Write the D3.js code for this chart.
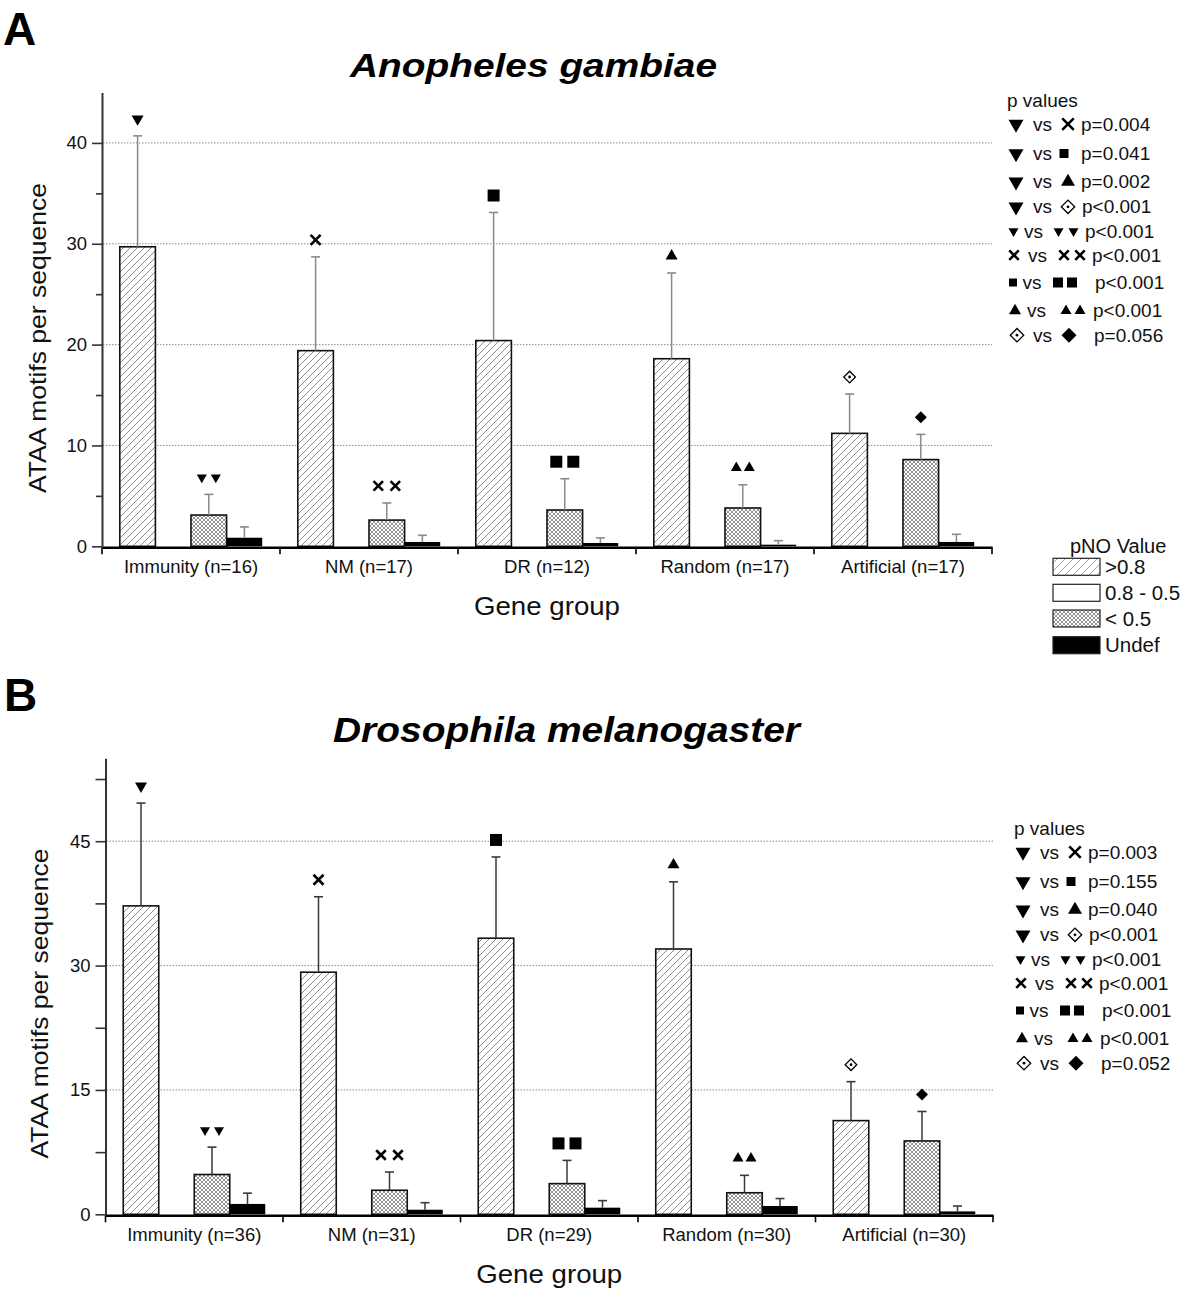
<!DOCTYPE html>
<html><head><meta charset="utf-8">
<script src="https://cdn.jsdelivr.net/npm/d3@7"></script>
<style>body{margin:0;background:#fff}svg{display:block;font-family:"Liberation Sans",Arial,sans-serif}</style>
</head><body><svg id="c" width="1200" height="1296"></svg>
<script>
// ---------- data ----------
const seriesNames = [">0.8", "0.8 - 0.5", "< 0.5", "Undef"];

const categoriesA = ["Immunity (n=16)", "NM (n=17)", "DR (n=12)", "Random (n=17)", "Artificial (n=17)"];
const highA = [29.7, 19.4, 20.4, 18.6, 11.2];
const highErrA = [11.0, 9.3, 12.7, 8.5, 3.9];
const midA = [0, 0, 0, 0, 0];
const midErrA = [0, 0, 0, 0, 0];
const lowA = [3.1, 2.6, 3.6, 3.8, 8.6];
const lowErrA = [2.05, 1.7, 3.1, 2.3, 2.5];
const undefA = [0.85, 0.43, 0.33, 0.16, 0.43];
const undefErrA = [1.07, 0.66, 0.5, 0.4, 0.76];
const yTicksA = [0, 10, 20, 30, 40];
const yMinorA = [5, 15, 25, 35];
const pValuesA = ["p=0.004", "p=0.041", "p=0.002", "p<0.001", "p<0.001", "p<0.001", "p<0.001", "p<0.001", "p=0.056"];

const categoriesB = ["Immunity (n=36)", "NM (n=31)", "DR (n=29)", "Random (n=30)", "Artificial (n=30)"];
const highB = [37.2, 29.2, 33.3, 32.0, 11.3];
const highErrB = [12.4, 9.1, 9.8, 8.1, 4.7];
const midB = [0, 0, 0, 0, 0];
const midErrB = [0, 0, 0, 0, 0];
const lowB = [4.8, 2.9, 3.7, 2.6, 8.85];
const lowErrB = [3.3, 2.2, 2.8, 2.1, 3.55];
const undefB = [1.25, 0.55, 0.8, 1.0, 0.35];
const undefErrB = [1.3, 0.85, 0.85, 0.9, 0.65];
const yTicksB = [0, 15, 30, 45];
const yMinorB = [7.5, 22.5, 37.5, 52.5];
const pValuesB = ["p=0.003", "p=0.155", "p=0.040", "p<0.001", "p<0.001", "p<0.001", "p<0.001", "p<0.001", "p=0.052"];

const highMarks = ["down", "cross", "square", "up", "dotdiamond"];
const lowMarks = ["down", "cross", "square", "up", "diamond"];
const lowMarkCount = [2, 2, 2, 2, 1];
const legendPairs = [["down","cross"],["down","square"],["down","up"],["down","dotdiamond"],["down","down"],["cross","cross"],["square","square"],["up","up"],["dotdiamond","diamond"]];
const legendPairCount = [1,1,1,1,2,2,2,2,1];

// ---------- drawing ----------
const svg = d3.select("#c");
const defs = svg.append("defs");
function hatchPattern(id, size, color) {
  const p = defs.append("pattern").attr("id", id).attr("patternUnits", "userSpaceOnUse")
    .attr("width", size).attr("height", size);
  p.append("rect").attr("width", size).attr("height", size).attr("fill", "#fff");
  p.append("path").attr("d", `M0,${size} L${size},0 M${-size/2},${size/2} L${size/2},${-size/2} M${size/2},${size*1.5} L${size*1.5},${size/2}`)
    .attr("stroke", color).attr("stroke-width", 0.9);
}
hatchPattern("hatch", 7, "#808080");
hatchPattern("hatchL", 8, "#9a9a9a");
(function(){
  const s = 4;
  const p = defs.append("pattern").attr("id", "cross").attr("patternUnits", "userSpaceOnUse").attr("width", s).attr("height", s);
  p.append("rect").attr("width", s).attr("height", s).attr("fill", "#fff");
  p.append("path").attr("d", `M0,0 L${s},${s} M0,${s} L${s},0`).attr("stroke", "#777").attr("stroke-width", 0.8);
})();
const fills = ["url(#hatch)", "#fff", "url(#cross)", "#000"];

function sym(g, type, x, y, w) {
  if (type === "down" || type === "up") {
    g.append("path").attr("d", d3.symbol(d3.symbolTriangle, w * w * Math.sqrt(3) / 4)())
      .attr("transform", `translate(${x},${y}) rotate(${type === "down" ? 180 : 0})`).attr("fill", "#000");
  } else if (type === "square") {
    g.append("path").attr("d", d3.symbol(d3.symbolSquare, w * w)()).attr("transform", `translate(${x},${y})`).attr("fill", "#000");
  } else if (type === "diamond") {
    g.append("path").attr("d", d3.symbol(d3.symbolSquare, w * w / 2)()).attr("transform", `translate(${x},${y}) rotate(45)`).attr("fill", "#000");
  } else if (type === "dotdiamond") {
    g.append("path").attr("d", d3.symbol(d3.symbolSquare, w * w / 2 * 0.8)()).attr("transform", `translate(${x},${y}) rotate(45)`)
      .attr("fill", "#fff").attr("stroke", "#000").attr("stroke-width", 1.3);
    g.append("circle").attr("cx", x).attr("cy", y).attr("r", 1.4).attr("fill", "#000");
  } else if (type === "cross") {
    const h = w / 2, p = d3.path();
    p.moveTo(x - h, y - h); p.lineTo(x + h, y + h); p.moveTo(x - h, y + h); p.lineTo(x + h, y - h);
    g.append("path").attr("d", p.toString()).attr("stroke", "#000").attr("stroke-width", 2.6).attr("fill", "none");
  }
}
function symGroup(g, type, count, x, y, w, sp) {
  if (count === 1) sym(g, type, x, y, w);
  else { sym(g, type, x - sp / 2, y, w); sym(g, type, x + sp / 2, y, w); }
}

function drawPanel(c) {
  const g = svg.append("g");
  const x0 = d3.scaleBand().domain(c.categories).range([c.left, c.right]).padding(0);
  const x1 = d3.scaleBand().domain(seriesNames).range([0, x0.bandwidth()]).paddingInner(0).paddingOuter(0.5);
  const y = d3.scaleLinear().domain([0, c.ymax]).range([c.y0, c.ytop]);

  // grid
  g.append("g").selectAll("line").data(c.ticks.filter(t => t > 0)).join("line")
    .attr("x1", c.left + 1).attr("x2", c.right).attr("y1", d => y(d)).attr("y2", d => y(d))
    .attr("stroke", "#8c8c8c").attr("stroke-width", 1).attr("stroke-dasharray", "1.5,1.5");

  // bars
  const bars = g.append("g");
  c.values.forEach((vals, j) => {
    vals.forEach((v, i) => {
      if (v <= 0) return;
      const bx = x0(c.categories[i]) + x1(seriesNames[j]);
      bars.append("rect").attr("x", bx).attr("y", y(v)).attr("width", x1.bandwidth()).attr("height", y(0) - y(v))
        .attr("fill", fills[j]).attr("stroke", j === 3 ? "none" : "#111").attr("stroke-width", 1.6);
      const e = c.errs[j][i];
      if (e > 0) {
        const cx = bx + x1.bandwidth() / 2;
        bars.append("line").attr("x1", cx).attr("x2", cx).attr("y1", y(v)).attr("y2", y(v + e))
          .attr("stroke", c.errColor).attr("stroke-width", 1.5);
        bars.append("line").attr("x1", cx - 4.5).attr("x2", cx + 4.5).attr("y1", y(v + e)).attr("y2", y(v + e))
          .attr("stroke", c.errColor).attr("stroke-width", 1.6);
      }
    });
  });

  // markers
  const mk = g.append("g");
  c.categories.forEach((cat, i) => {
    const hx = x0(cat) + x1(seriesNames[0]) + x1.bandwidth() / 2;
    const hy = y(c.values[0][i] + c.errs[0][i]) - 17;
    sym(mk, highMarks[i], hx, hy, highMarks[i] === "dotdiamond" ? 13 : (highMarks[i] === "cross" ? 10 : 12));
    const lx = x0(cat) + x1(seriesNames[2]) + x1.bandwidth() / 2;
    const ly = y(c.values[2][i] + c.errs[2][i]) - 17;
    const t = lowMarks[i];
    const w = t === "down" ? 10 : t === "cross" ? 9.5 : t === "square" ? 12 : t === "up" ? 11 : 12;
    const sp = t === "down" ? 14 : t === "cross" ? 17 : t === "square" ? 17 : 13;
    symGroup(mk, t, lowMarkCount[i], lx, ly, w, sp);
  });

  // y axis
  const ya = g.append("g").attr("transform", `translate(${c.left},0)`)
    .call(d3.axisLeft(y).tickValues(c.ticks).tickSize(10).tickSizeOuter(0).tickPadding(5).tickFormat(d3.format("d")));
  ya.select(".domain").attr("stroke", "#333").attr("stroke-width", 2);
  ya.selectAll(".tick line").attr("stroke", "#333").attr("stroke-width", 1.6);
  ya.selectAll(".tick text").attr("font-size", 18.5).attr("font-family", "Liberation Sans, Arial").attr("fill", "#111");
  const ym = g.append("g").attr("transform", `translate(${c.left},0)`)
    .call(d3.axisLeft(y).tickValues(c.minor).tickSize(c.minorSize).tickFormat(""));
  ym.select(".domain").remove();
  ym.selectAll(".tick line").attr("stroke", "#333").attr("stroke-width", 1.6);

  // x axis
  const xa = g.append("g").attr("transform", `translate(0,${c.y0 + 1})`)
    .call(d3.axisBottom(x0).tickSize(0).tickSizeOuter(0).tickPadding(13));
  xa.select(".domain").attr("stroke", "#000").attr("stroke-width", 2.5);
  xa.selectAll(".tick text").attr("font-size", 18.5).attr("font-family", "Liberation Sans, Arial").attr("fill", "#111");
  const bounds = c.categories.map(d => x0(d)).concat([c.right]);
  xa.append("g").selectAll("line").data(bounds).join("line")
    .attr("x1", d => d).attr("x2", d => d).attr("y1", 0).attr("y2", 7).attr("stroke", "#000").attr("stroke-width", 1.6);

  // labels
  svg.append("text").attr("x", (c.left + c.right) / 2).attr("y", c.y0 + 69).attr("text-anchor", "middle")
    .attr("font-size", 26).attr("textLength", 146).attr("lengthAdjust", "spacingAndGlyphs").attr("fill", "#111").text("Gene group");
  svg.append("text").attr("transform", `translate(${c.ylabX},${c.ylabY}) rotate(-90)`).attr("text-anchor", "middle")
    .attr("font-size", 24).attr("textLength", 310).attr("lengthAdjust", "spacingAndGlyphs").attr("fill", "#111")
    .text("ATAA motifs per sequence");
  svg.append("text").attr("x", c.titleX).attr("y", c.titleY).attr("text-anchor", "middle")
    .attr("font-size", c.titleSize).attr("font-weight", "bold").attr("font-style", "italic")
    .attr("textLength", c.titleLen).attr("lengthAdjust", "spacingAndGlyphs").attr("fill", "#000").text(c.title);
  svg.append("text").attr("x", c.letterX).attr("y", c.letterY).attr("font-size", 46).attr("font-weight", "bold")
    .attr("fill", "#000").text(c.letter);

  // p-value legend
  const lg = svg.append("g").attr("transform", `translate(${c.legDx},${c.legDy})`);
  lg.append("text").attr("x", 1007).attr("y", 106.7).attr("font-size", 19).attr("fill", "#111").text("p values");
  const rowY = [130.7, 160, 188.3, 213.3, 237.7, 261.7, 289, 317.3, 341.7];
  const lay = [
    {ax:1016, aw:15, vs:1033, bx:1068, bw:11.5, sp:0, px:1081},
    {ax:1016, aw:15, vs:1033, bx:1064, bw:9, sp:0, px:1081},
    {ax:1016, aw:15, vs:1033, bx:1068, bw:14, sp:0, px:1081},
    {ax:1016, aw:15, vs:1033, bx:1068, bw:15, sp:0, px:1082},
    {ax:1013.5, aw:10, vs:1024, bx:1066, bw:10, sp:15, px:1085},
    {ax:1014, aw:9.5, vs:1028, bx:1072, bw:9.5, sp:16, px:1092},
    {ax:1013, aw:8, vs:1022.5, bx:1065, bw:10, sp:14, px:1095},
    {ax:1015, aw:12, vs:1027, bx:1073, bw:11, sp:14, px:1093},
    {ax:1017, aw:15, vs:1033, bx:1069, bw:15, sp:0, px:1094}
  ];
  legendPairs.forEach((pr, k) => {
    const L = lay[k], yy = rowY[k], sy = yy - 6.5;
    sym(lg, pr[0], L.ax, sy, L.aw);
    lg.append("text").attr("x", L.vs).attr("y", yy).attr("font-size", 19).attr("fill", "#111").text("vs");
    symGroup(lg, pr[1], legendPairCount[k], L.bx, sy, L.bw, L.sp);
    lg.append("text").attr("x", L.px).attr("y", yy).attr("font-size", 19).attr("fill", "#111").text(c.pvals[k]);
  });
}

drawPanel({
  categories: categoriesA, values: [highA, midA, lowA, undefA], errs: [highErrA, midErrA, lowErrA, undefErrA],
  left: 102, right: 992, y0: 546.3, ytop: 92.5, ymax: 45, ticks: yTicksA, minor: yMinorA, minorSize: 6,
  errColor: "#8a8a8a", ylabX: 46, ylabY: 338, title: "Anopheles gambiae", titleX: 533.5, titleY: 77,
  titleSize: 34, titleLen: 367, letter: "A", letterX: 3, letterY: 45, pvals: pValuesA, legDx: 0, legDy: 0
});
drawPanel({
  categories: categoriesB, values: [highB, midB, lowB, undefB], errs: [highErrB, midErrB, lowErrB, undefErrB],
  left: 105.5, right: 993, y0: 1214.3, ytop: 758.3, ymax: 55, ticks: yTicksB, minor: yMinorB, minorSize: 10,
  errColor: "#3a3a3a", ylabX: 48, ylabY: 1003.5, title: "Drosophila melanogaster", titleX: 566.5, titleY: 742,
  titleSize: 35, titleLen: 467, letter: "B", letterX: 4, letterY: 711, pvals: pValuesB, legDx: 7, legDy: 728
});

// pNO legend
const pl = svg.append("g");
pl.append("text").attr("x", 1070).attr("y", 553).attr("font-size", 20).attr("fill", "#111").text("pNO Value");
const legFills = ["url(#hatchL)", "#fff", "url(#cross)", "#000"];
const swY = [558.3, 584.3, 610, 636.7];
seriesNames.forEach((s, k) => {
  pl.append("rect").attr("x", 1053).attr("y", swY[k]).attr("width", 47).attr("height", 17)
    .attr("fill", legFills[k]).attr("stroke", "#222").attr("stroke-width", 1.2);
  pl.append("text").attr("x", 1105).attr("y", swY[k] + 15.5).attr("font-size", 20.5).attr("fill", "#111").text(s);
});
</script></body></html>
